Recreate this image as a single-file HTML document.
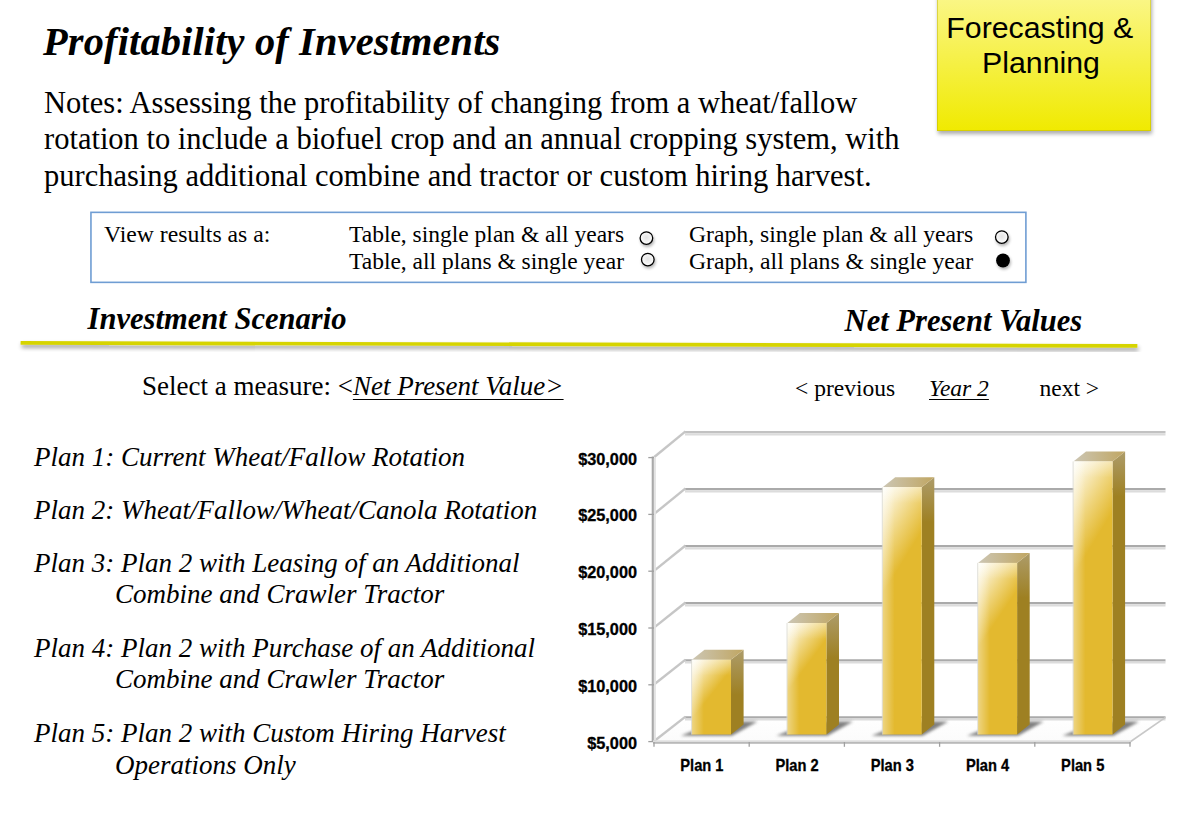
<!DOCTYPE html>
<html><head><meta charset="utf-8">
<style>
html,body{margin:0;padding:0;background:#fff;}
body{width:1190px;height:822px;position:relative;overflow:hidden;font-family:"Liberation Serif",serif;color:#000;}
.a{position:absolute;white-space:nowrap;}
.s{font-family:"Liberation Serif",serif;}
.ss{font-family:"Liberation Sans",sans-serif;}
#title{left:43px;top:22px;letter-spacing:0.15px;font-size:40.4px;line-height:40px;font-weight:bold;font-style:italic;}
.notes{left:44px;font-size:30.5px;line-height:30px;}
#fp{left:937.2px;top:-10px;width:214.3px;height:140.7px;background:linear-gradient(#fbf78e,#f0ea00);box-shadow:inset 0 0 0 1px rgba(185,175,0,.45),0.5px 3px 4px rgba(0,0,0,.33);}
.fpt{font-family:"Liberation Sans",sans-serif;font-size:30.3px;line-height:30px;color:#000;}
#opt{left:90px;top:212px;width:933px;height:66px;border:2px solid #8db2de;}
.opt{font-size:23.7px;line-height:23px;}
.rad{position:absolute;width:10.6px;height:10.6px;border:1.7px solid #000;border-radius:50%;background:radial-gradient(circle at 50% 45%,#e6e6e6 0,#f4f4f4 50%,#fff 100%);box-shadow:1px 2.5px 4px rgba(0,0,0,.22);}
.rad.on{background:#000;}
.head{font-size:30.55px;line-height:30px;font-weight:bold;font-style:italic;}
.sel{font-size:27px;line-height:27px;}
.nav{font-size:23.5px;line-height:23px;}
.plan{left:34px;font-size:27px;line-height:27px;font-style:italic;}
.ind{left:115px;}
</style></head><body>
<div class="a" id="title">Profitability of Investments</div>
<div class="a notes" style="top:88px">Notes: Assessing the profitability of changing from a wheat/fallow</div>
<div class="a notes" style="top:123.6px">rotation to include a biofuel crop and an annual cropping system, with</div>
<div class="a notes" style="top:161.2px">purchasing additional combine and tractor or custom hiring harvest.</div>

<div class="a" id="fp"></div>
<div class="a fpt" style="left:946.3px;top:13.2px">Forecasting &amp;</div>
<div class="a fpt" style="left:982px;top:48.2px">Planning</div>

<div class="a opt" style="left:104px;top:223px">View results as a:</div>
<div class="a opt" style="left:349px;top:223px;font-size:23.5px">Table, single plan &amp; all years</div>
<div class="a opt" style="left:349px;top:250px;font-size:23.5px">Table, all plans &amp; single year</div>
<div class="a opt" style="left:689px;top:223px">Graph, single plan &amp; all years</div>
<div class="a opt" style="left:689px;top:250px">Graph, all plans &amp; single year</div>

<svg class="a" style="left:0;top:0" width="1190" height="822" viewBox="0 0 1190 822">
<defs>
<filter id="rsh" x="-60%" y="-60%" width="220%" height="220%"><feGaussianBlur in="SourceAlpha" stdDeviation="1.8"/><feOffset dx="0.8" dy="2.2"/><feComponentTransfer><feFuncA type="linear" slope="0.3"/></feComponentTransfer><feMerge><feMergeNode/><feMergeNode in="SourceGraphic"/></feMerge></filter>
<radialGradient id="rfill" cx="0.5" cy="0.45" r="0.55"><stop offset="0" stop-color="#e4e4e4"/><stop offset="0.6" stop-color="#f3f3f3"/><stop offset="1" stop-color="#ffffff"/></radialGradient>
</defs>
<rect x="90.95" y="212.35" width="934.95" height="70" fill="none" stroke="#6f9dd3" stroke-width="1.6"/>
<circle cx="646.4" cy="238.1" r="6.3" fill="url(#rfill)" stroke="#000" stroke-width="1.3" filter="url(#rsh)"/>
<circle cx="647.8" cy="259.6" r="6.3" fill="url(#rfill)" stroke="#000" stroke-width="1.3" filter="url(#rsh)"/>
<circle cx="1001.8" cy="237.1" r="6.3" fill="url(#rfill)" stroke="#000" stroke-width="1.3" filter="url(#rsh)"/>
<circle cx="1003" cy="260.5" r="6.9" fill="#000" filter="url(#rsh)"/>
</svg>

<div class="a head" style="left:87.6px;top:304px">Investment Scenario</div>
<div class="a head" style="left:844.6px;top:306.3px">Net Present Values</div>

<svg class="a" style="left:0;top:0" width="1190" height="822" viewBox="0 0 1190 822">
<defs>
<filter id="lsh" x="-5%" y="-200%" width="110%" height="500%"><feGaussianBlur in="SourceAlpha" stdDeviation="2"/><feOffset dx="1" dy="3"/><feComponentTransfer><feFuncA type="linear" slope="0.4"/></feComponentTransfer><feMerge><feMergeNode/><feMergeNode in="SourceGraphic"/></feMerge></filter>
</defs>
<line x1="20.6" y1="342.9" x2="1137.4" y2="345.9" stroke="#d6d400" stroke-width="3.7" stroke-linecap="butt" filter="url(#lsh)"/>
</svg>

<div class="a sel" style="left:142px;top:372.5px">Select a measure: &lt;<i style="text-decoration:underline;text-decoration-thickness:1.4px;text-underline-offset:3.6px">Net Present Value&gt;</i></div>
<div class="a nav" style="left:795px;top:377.3px">&lt; previous</div>
<div class="a nav" style="left:929px;top:377.3px"><i style="text-decoration:underline;text-decoration-thickness:1.3px;text-underline-offset:3px">Year 2</i></div>
<div class="a nav" style="left:1039.5px;top:377.3px">next &gt;</div>

<div class="a plan" style="top:444.4px">Plan 1: Current Wheat/Fallow Rotation</div>
<div class="a plan" style="top:496.6px">Plan 2: Wheat/Fallow/Wheat/Canola Rotation</div>
<div class="a plan" style="top:549.8px">Plan 3: Plan 2 with Leasing of an Additional</div>
<div class="a plan ind" style="top:581.1px">Combine and Crawler Tractor</div>
<div class="a plan" style="top:635.2px">Plan 4: Plan 2 with Purchase of an Additional</div>
<div class="a plan ind" style="top:666.4px">Combine and Crawler Tractor</div>
<div class="a plan" style="top:720.3px">Plan 5: Plan 2 with Custom Hiring Harvest</div>
<div class="a plan ind" style="top:752.2px">Operations Only</div>

<!--CHART-->
<svg class="a" style="left:0;top:0" width="1190" height="822" viewBox="0 0 1190 822">
<defs>
<filter id="blur3" x="-50%" y="-50%" width="200%" height="200%"><feGaussianBlur stdDeviation="3"/></filter>
<filter id="blur2" x="-50%" y="-50%" width="200%" height="200%"><feGaussianBlur stdDeviation="1.8"/></filter>
<filter id="blur1" x="-50%" y="-50%" width="200%" height="200%"><feGaussianBlur stdDeviation="0.6"/></filter>
<linearGradient id="floorg" x1="0" y1="717" x2="0" y2="742" gradientUnits="userSpaceOnUse"><stop offset="0" stop-color="#ffffff"/><stop offset="1" stop-color="#fbfbfb"/></linearGradient>
</defs>
<polygon points="654,742 1130,742 1165,717.5 686,717.5" fill="url(#floorg)"/>
<line x1="685.0" y1="717.3" x2="1165.5" y2="717.3" stroke="#aaaaaa" stroke-width="2.2"/>
<line x1="685.0" y1="719.5" x2="1165.5" y2="719.5" stroke="#dcdcdc" stroke-width="2.2"/>
<line x1="685.0" y1="660.3" x2="1165.5" y2="660.3" stroke="#aaaaaa" stroke-width="2.2"/>
<line x1="685.0" y1="662.5" x2="1165.5" y2="662.5" stroke="#dcdcdc" stroke-width="2.2"/>
<line x1="685.0" y1="603.2" x2="1165.5" y2="603.2" stroke="#aaaaaa" stroke-width="2.2"/>
<line x1="685.0" y1="605.4" x2="1165.5" y2="605.4" stroke="#dcdcdc" stroke-width="2.2"/>
<line x1="685.0" y1="546.2" x2="1165.5" y2="546.2" stroke="#aaaaaa" stroke-width="2.2"/>
<line x1="685.0" y1="548.4" x2="1165.5" y2="548.4" stroke="#dcdcdc" stroke-width="2.2"/>
<line x1="685.0" y1="489.1" x2="1165.5" y2="489.1" stroke="#aaaaaa" stroke-width="2.2"/>
<line x1="685.0" y1="491.3" x2="1165.5" y2="491.3" stroke="#dcdcdc" stroke-width="2.2"/>
<line x1="685.0" y1="432.1" x2="1165.5" y2="432.1" stroke="#c2c2c2" stroke-width="2.2"/>
<line x1="685.0" y1="434.3" x2="1165.5" y2="434.3" stroke="#dcdcdc" stroke-width="2.2"/>
<line x1="654.3" y1="741.0" x2="685.5" y2="716.6" stroke="#c6c6c6" stroke-width="2.4"/>
<line x1="654.3" y1="684.2" x2="685.5" y2="659.6" stroke="#c6c6c6" stroke-width="2.4"/>
<line x1="654.3" y1="627.4" x2="685.5" y2="602.5" stroke="#c6c6c6" stroke-width="2.4"/>
<line x1="654.3" y1="570.6" x2="685.5" y2="545.5" stroke="#c6c6c6" stroke-width="2.4"/>
<line x1="654.3" y1="513.8" x2="685.5" y2="488.4" stroke="#c6c6c6" stroke-width="2.4"/>
<line x1="654.3" y1="457.0" x2="685.5" y2="431.4" stroke="#c6c6c6" stroke-width="2.4"/>
<line x1="652.8" y1="456.6" x2="652.8" y2="742" stroke="#a9a9a9" stroke-width="2.2"/>
<line x1="654.9" y1="457.6" x2="654.9" y2="740" stroke="#e3e3e3" stroke-width="2"/>
<line x1="648.3" y1="741.6" x2="654" y2="741.6" stroke="#a0a0a0" stroke-width="1.3"/>
<line x1="648.3" y1="684.8" x2="654" y2="684.8" stroke="#a0a0a0" stroke-width="1.3"/>
<line x1="648.3" y1="628.0" x2="654" y2="628.0" stroke="#a0a0a0" stroke-width="1.3"/>
<line x1="648.3" y1="571.2" x2="654" y2="571.2" stroke="#a0a0a0" stroke-width="1.3"/>
<line x1="648.3" y1="514.4" x2="654" y2="514.4" stroke="#a0a0a0" stroke-width="1.3"/>
<line x1="648.3" y1="457.6" x2="654" y2="457.6" stroke="#a0a0a0" stroke-width="1.3"/>
<line x1="1130" y1="742" x2="1165.5" y2="717.3" stroke="#c8c8c8" stroke-width="1.6"/>
<rect x="653" y="740.3" width="477.5" height="1.7" fill="#dedede"/>
<rect x="653" y="742" width="477.5" height="1.8" fill="#b9b9b9"/>
<line x1="654.0" y1="742" x2="654.0" y2="746.8" stroke="#a0a0a0" stroke-width="1.3"/>
<line x1="749.2" y1="742" x2="749.2" y2="746.8" stroke="#a0a0a0" stroke-width="1.3"/>
<line x1="844.4" y1="742" x2="844.4" y2="746.8" stroke="#a0a0a0" stroke-width="1.3"/>
<line x1="939.6" y1="742" x2="939.6" y2="746.8" stroke="#a0a0a0" stroke-width="1.3"/>
<line x1="1034.8" y1="742" x2="1034.8" y2="746.8" stroke="#a0a0a0" stroke-width="1.3"/>
<line x1="1130.0" y1="742" x2="1130.0" y2="746.8" stroke="#a0a0a0" stroke-width="1.3"/>
<polygon points="680.9,735.7 732.0,735.7 757.6,721.5 716.5,721.5" fill="#555" opacity="0.75" filter="url(#blur2)"/>
<polygon points="776.3,735.7 827.4,735.7 853.0,721.5 811.9,721.5" fill="#555" opacity="0.75" filter="url(#blur2)"/>
<polygon points="871.6,735.7 922.7,735.7 948.3,721.5 907.2,721.5" fill="#555" opacity="0.75" filter="url(#blur2)"/>
<polygon points="967.0,735.7 1018.1,735.7 1043.7,721.5 1002.6,721.5" fill="#555" opacity="0.75" filter="url(#blur2)"/>
<polygon points="1062.4,735.7 1113.5,735.7 1139.1,721.5 1098.0,721.5" fill="#555" opacity="0.75" filter="url(#blur2)"/>
<linearGradient id="bf0" gradientUnits="userSpaceOnUse" x1="691.9" y1="659.7" x2="720.9" y2="682.7"><stop offset="0" stop-color="#fffff8"/><stop offset="0.3" stop-color="#f8ebc0"/><stop offset="0.62" stop-color="#efd47a"/><stop offset="1" stop-color="#e3b92f"/></linearGradient>
<linearGradient id="hl0" gradientUnits="userSpaceOnUse" x1="691.9" y1="0" x2="703.9" y2="0"><stop offset="0" stop-color="#fff" stop-opacity="0.4"/><stop offset="1" stop-color="#fff" stop-opacity="0"/></linearGradient>
<linearGradient id="sd0" gradientUnits="userSpaceOnUse" x1="0" y1="649.8" x2="0" y2="694.7"><stop offset="0" stop-color="#ad9c6a"/><stop offset="1" stop-color="#9e8022"/></linearGradient>
<linearGradient id="tp0" gradientUnits="userSpaceOnUse" x1="691.9" y1="0" x2="743.6" y2="0"><stop offset="0" stop-color="#ccc6b4"/><stop offset="1" stop-color="#c0a662"/></linearGradient>
<polygon points="731.0,659.7 743.6,649.8 743.6,724.6 731.0,734.5" fill="url(#sd0)"/>
<polygon points="691.9,659.7 704.5,649.8 743.6,649.8 731.0,659.7" fill="url(#tp0)"/>
<rect x="691.9" y="659.7" width="39.1" height="74.8" fill="url(#bf0)"/>
<rect x="691.9" y="659.7" width="12" height="74.8" fill="url(#hl0)"/>
<linearGradient id="vt0" gradientUnits="userSpaceOnUse" x1="0" y1="659.7" x2="0" y2="675.7"><stop offset="0" stop-color="#fff" stop-opacity="0.35"/><stop offset="1" stop-color="#fff" stop-opacity="0"/></linearGradient>
<rect x="691.9" y="659.7" width="39.1" height="16" fill="url(#vt0)"/>
<line x1="691.6" y1="659.7" x2="691.6" y2="734.5" stroke="#d8d8d0" stroke-width="0.8"/>
<linearGradient id="bf1" gradientUnits="userSpaceOnUse" x1="787.3" y1="623.0" x2="820.3" y2="647.5"><stop offset="0" stop-color="#fffff8"/><stop offset="0.3" stop-color="#f8ebc0"/><stop offset="0.62" stop-color="#efd47a"/><stop offset="1" stop-color="#e3b92f"/></linearGradient>
<linearGradient id="hl1" gradientUnits="userSpaceOnUse" x1="787.3" y1="0" x2="799.3" y2="0"><stop offset="0" stop-color="#fff" stop-opacity="0.4"/><stop offset="1" stop-color="#fff" stop-opacity="0"/></linearGradient>
<linearGradient id="sd1" gradientUnits="userSpaceOnUse" x1="0" y1="613.1" x2="0" y2="658.0"><stop offset="0" stop-color="#ad9c6a"/><stop offset="1" stop-color="#9e8022"/></linearGradient>
<linearGradient id="tp1" gradientUnits="userSpaceOnUse" x1="787.3" y1="0" x2="839.0" y2="0"><stop offset="0" stop-color="#ccc6b4"/><stop offset="1" stop-color="#c0a662"/></linearGradient>
<polygon points="826.4,623.0 839.0,613.1 839.0,724.6 826.4,734.5" fill="url(#sd1)"/>
<polygon points="787.3,623.0 799.9,613.1 839.0,613.1 826.4,623.0" fill="url(#tp1)"/>
<rect x="787.3" y="623.0" width="39.1" height="111.5" fill="url(#bf1)"/>
<rect x="787.3" y="623.0" width="12" height="111.5" fill="url(#hl1)"/>
<linearGradient id="vt1" gradientUnits="userSpaceOnUse" x1="0" y1="623.0" x2="0" y2="639.0"><stop offset="0" stop-color="#fff" stop-opacity="0.35"/><stop offset="1" stop-color="#fff" stop-opacity="0"/></linearGradient>
<rect x="787.3" y="623.0" width="39.1" height="16" fill="url(#vt1)"/>
<line x1="787.0" y1="623.0" x2="787.0" y2="734.5" stroke="#d8d8d0" stroke-width="0.8"/>
<linearGradient id="bf2" gradientUnits="userSpaceOnUse" x1="882.6" y1="487.2" x2="930.6" y2="517.1"><stop offset="0" stop-color="#fffff8"/><stop offset="0.3" stop-color="#f8ebc0"/><stop offset="0.62" stop-color="#efd47a"/><stop offset="1" stop-color="#e3b92f"/></linearGradient>
<linearGradient id="hl2" gradientUnits="userSpaceOnUse" x1="882.6" y1="0" x2="894.6" y2="0"><stop offset="0" stop-color="#fff" stop-opacity="0.4"/><stop offset="1" stop-color="#fff" stop-opacity="0"/></linearGradient>
<linearGradient id="sd2" gradientUnits="userSpaceOnUse" x1="0" y1="477.3" x2="0" y2="522.2"><stop offset="0" stop-color="#ad9c6a"/><stop offset="1" stop-color="#9e8022"/></linearGradient>
<linearGradient id="tp2" gradientUnits="userSpaceOnUse" x1="882.6" y1="0" x2="934.3" y2="0"><stop offset="0" stop-color="#ccc6b4"/><stop offset="1" stop-color="#c0a662"/></linearGradient>
<polygon points="921.7,487.2 934.3,477.3 934.3,724.6 921.7,734.5" fill="url(#sd2)"/>
<polygon points="882.6,487.2 895.2,477.3 934.3,477.3 921.7,487.2" fill="url(#tp2)"/>
<rect x="882.6" y="487.2" width="39.1" height="247.3" fill="url(#bf2)"/>
<rect x="882.6" y="487.2" width="12" height="247.3" fill="url(#hl2)"/>
<linearGradient id="vt2" gradientUnits="userSpaceOnUse" x1="0" y1="487.2" x2="0" y2="503.2"><stop offset="0" stop-color="#fff" stop-opacity="0.35"/><stop offset="1" stop-color="#fff" stop-opacity="0"/></linearGradient>
<rect x="882.6" y="487.2" width="39.1" height="16" fill="url(#vt2)"/>
<line x1="882.3" y1="487.2" x2="882.3" y2="734.5" stroke="#d8d8d0" stroke-width="0.8"/>
<linearGradient id="bf3" gradientUnits="userSpaceOnUse" x1="978.0" y1="562.9" x2="1017.6" y2="589.8"><stop offset="0" stop-color="#fffff8"/><stop offset="0.3" stop-color="#f8ebc0"/><stop offset="0.62" stop-color="#efd47a"/><stop offset="1" stop-color="#e3b92f"/></linearGradient>
<linearGradient id="hl3" gradientUnits="userSpaceOnUse" x1="978.0" y1="0" x2="990.0" y2="0"><stop offset="0" stop-color="#fff" stop-opacity="0.4"/><stop offset="1" stop-color="#fff" stop-opacity="0"/></linearGradient>
<linearGradient id="sd3" gradientUnits="userSpaceOnUse" x1="0" y1="553.0" x2="0" y2="597.9"><stop offset="0" stop-color="#ad9c6a"/><stop offset="1" stop-color="#9e8022"/></linearGradient>
<linearGradient id="tp3" gradientUnits="userSpaceOnUse" x1="978.0" y1="0" x2="1029.7" y2="0"><stop offset="0" stop-color="#ccc6b4"/><stop offset="1" stop-color="#c0a662"/></linearGradient>
<polygon points="1017.1,562.9 1029.7,553.0 1029.7,724.6 1017.1,734.5" fill="url(#sd3)"/>
<polygon points="978.0,562.9 990.6,553.0 1029.7,553.0 1017.1,562.9" fill="url(#tp3)"/>
<rect x="978.0" y="562.9" width="39.1" height="171.6" fill="url(#bf3)"/>
<rect x="978.0" y="562.9" width="12" height="171.6" fill="url(#hl3)"/>
<linearGradient id="vt3" gradientUnits="userSpaceOnUse" x1="0" y1="562.9" x2="0" y2="578.9"><stop offset="0" stop-color="#fff" stop-opacity="0.35"/><stop offset="1" stop-color="#fff" stop-opacity="0"/></linearGradient>
<rect x="978.0" y="562.9" width="39.1" height="16" fill="url(#vt3)"/>
<line x1="977.7" y1="562.9" x2="977.7" y2="734.5" stroke="#d8d8d0" stroke-width="0.8"/>
<linearGradient id="bf4" gradientUnits="userSpaceOnUse" x1="1073.4" y1="461.5" x2="1124.2" y2="492.4"><stop offset="0" stop-color="#fffff8"/><stop offset="0.3" stop-color="#f8ebc0"/><stop offset="0.62" stop-color="#efd47a"/><stop offset="1" stop-color="#e3b92f"/></linearGradient>
<linearGradient id="hl4" gradientUnits="userSpaceOnUse" x1="1073.4" y1="0" x2="1085.4" y2="0"><stop offset="0" stop-color="#fff" stop-opacity="0.4"/><stop offset="1" stop-color="#fff" stop-opacity="0"/></linearGradient>
<linearGradient id="sd4" gradientUnits="userSpaceOnUse" x1="0" y1="451.6" x2="0" y2="496.5"><stop offset="0" stop-color="#ad9c6a"/><stop offset="1" stop-color="#9e8022"/></linearGradient>
<linearGradient id="tp4" gradientUnits="userSpaceOnUse" x1="1073.4" y1="0" x2="1125.1" y2="0"><stop offset="0" stop-color="#ccc6b4"/><stop offset="1" stop-color="#c0a662"/></linearGradient>
<polygon points="1112.5,461.5 1125.1,451.6 1125.1,724.6 1112.5,734.5" fill="url(#sd4)"/>
<polygon points="1073.4,461.5 1086.0,451.6 1125.1,451.6 1112.5,461.5" fill="url(#tp4)"/>
<rect x="1073.4" y="461.5" width="39.1" height="273.0" fill="url(#bf4)"/>
<rect x="1073.4" y="461.5" width="12" height="273.0" fill="url(#hl4)"/>
<linearGradient id="vt4" gradientUnits="userSpaceOnUse" x1="0" y1="461.5" x2="0" y2="477.5"><stop offset="0" stop-color="#fff" stop-opacity="0.35"/><stop offset="1" stop-color="#fff" stop-opacity="0"/></linearGradient>
<rect x="1073.4" y="461.5" width="39.1" height="16" fill="url(#vt4)"/>
<line x1="1073.1" y1="461.5" x2="1073.1" y2="734.5" stroke="#d8d8d0" stroke-width="0.8"/>
<text x="637" y="748.6" text-anchor="end" font-family="Liberation Sans" font-weight="bold" font-size="16.3" stroke="#000" stroke-width="0.3">$5,000</text>
<text x="637" y="691.8" text-anchor="end" font-family="Liberation Sans" font-weight="bold" font-size="16.3" stroke="#000" stroke-width="0.3">$10,000</text>
<text x="637" y="635.0" text-anchor="end" font-family="Liberation Sans" font-weight="bold" font-size="16.3" stroke="#000" stroke-width="0.3">$15,000</text>
<text x="637" y="578.2" text-anchor="end" font-family="Liberation Sans" font-weight="bold" font-size="16.3" stroke="#000" stroke-width="0.3">$20,000</text>
<text x="637" y="521.4" text-anchor="end" font-family="Liberation Sans" font-weight="bold" font-size="16.3" stroke="#000" stroke-width="0.3">$25,000</text>
<text x="637" y="464.6" text-anchor="end" font-family="Liberation Sans" font-weight="bold" font-size="16.3" stroke="#000" stroke-width="0.3">$30,000</text>
<text transform="translate(701.9,771) scale(0.89,1)" text-anchor="middle" font-family="Liberation Sans" font-weight="bold" font-size="16.5" stroke="#000" stroke-width="0.3">Plan 1</text>
<text transform="translate(797.1,771) scale(0.89,1)" text-anchor="middle" font-family="Liberation Sans" font-weight="bold" font-size="16.5" stroke="#000" stroke-width="0.3">Plan 2</text>
<text transform="translate(892.3,771) scale(0.89,1)" text-anchor="middle" font-family="Liberation Sans" font-weight="bold" font-size="16.5" stroke="#000" stroke-width="0.3">Plan 3</text>
<text transform="translate(987.5,771) scale(0.89,1)" text-anchor="middle" font-family="Liberation Sans" font-weight="bold" font-size="16.5" stroke="#000" stroke-width="0.3">Plan 4</text>
<text transform="translate(1082.7,771) scale(0.89,1)" text-anchor="middle" font-family="Liberation Sans" font-weight="bold" font-size="16.5" stroke="#000" stroke-width="0.3">Plan 5</text>
</svg>
<!--/CHART-->
</body></html>
